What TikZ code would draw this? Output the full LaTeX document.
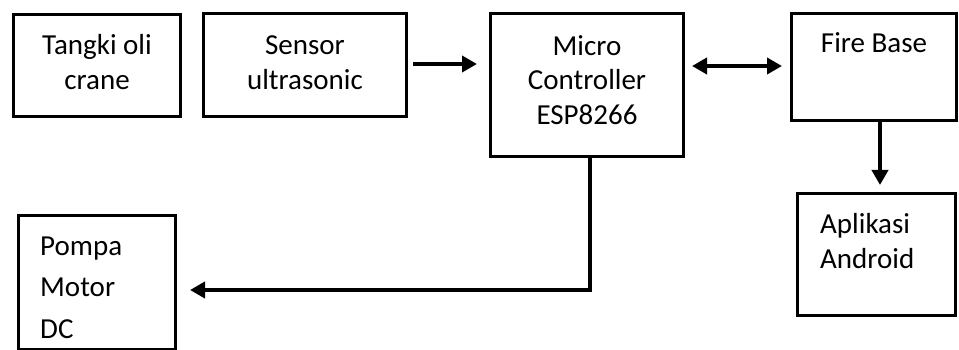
\documentclass[tikz,border=0pt]{standalone}
\usepackage{fontspec}
\setmainfont{Carlito}
\usetikzlibrary{arrows.meta}
\begin{document}
\begin{tikzpicture}[x=1pt,y=-1pt,
  box/.style={draw=black,line width=3pt,inner sep=0pt,fill=white},
  txt/.style={font=\fontsize{29}{35}\selectfont,inner sep=0pt,anchor=base},
  arr/.style={line width=4.5pt,-{Triangle[length=15pt,width=16pt]}},
  darr/.style={line width=4.5pt,{Triangle[length=15pt,width=16pt]}-{Triangle[length=15pt,width=16pt]}}]
\fill[white] (0,0) rectangle (959,350);
\useasboundingbox (0,0) rectangle (959,350);
% boxes
\node[box,minimum width=167pt,minimum height=102pt] (tangki) at (97,65.5) {};
\node[box,minimum width=203pt,minimum height=103pt] (sensor) at (305,65) {};
\node[box,minimum width=193pt,minimum height=143pt] (micro) at (587,85.5) {};
\node[box,minimum width=165pt,minimum height=107pt] (fire) at (874,67) {};
\node[box,minimum width=158pt,minimum height=122pt] (apk) at (876.5,254.5) {};
\node[box,minimum width=157pt,minimum height=134pt] (pompa) at (97,282.5) {};
% texts (base anchor = baseline of last line)
\node[txt,align=center] (t1) at (97,90) {Tangki oli\\crane};
\node[txt,align=center] (t2) at (305,90) {Sensor\\ultrasonic};
\node[txt,align=center] (t3) at (587,125) {Micro\\Controller\\ESP8266};
\node[txt] (t4) at (874,53) {Fire Base};
\node[txt,align=left,anchor=base west] (t5) at (820,268) {Aplikasi\\Android};
\node[txt,align=left,anchor=base west,font=\fontsize{29}{41.5}\selectfont] (t6) at (40,338) {Pompa\\Motor\\DC};
% connectors (yshift is in canvas pt: positive = up)
\draw[arr] ([xshift=5pt,yshift=1pt]sensor.east) -- ([xshift=-12pt,yshift=1pt]sensor.east -| micro.west);
\draw[darr] ([xshift=7pt,yshift=1pt]micro.east |- fire.west) -- ([xshift=-8pt,yshift=1pt]fire.west);
\draw[arr] ([xshift=6pt]fire.south) -- ([xshift=6pt,yshift=7pt]fire.south |- apk.north);
\coordinate (tip) at ([xshift=13pt,yshift=-7.5pt]pompa.east);
\draw[arr] ([xshift=3pt]micro.south) |- (tip);
\end{tikzpicture}
\end{document}
